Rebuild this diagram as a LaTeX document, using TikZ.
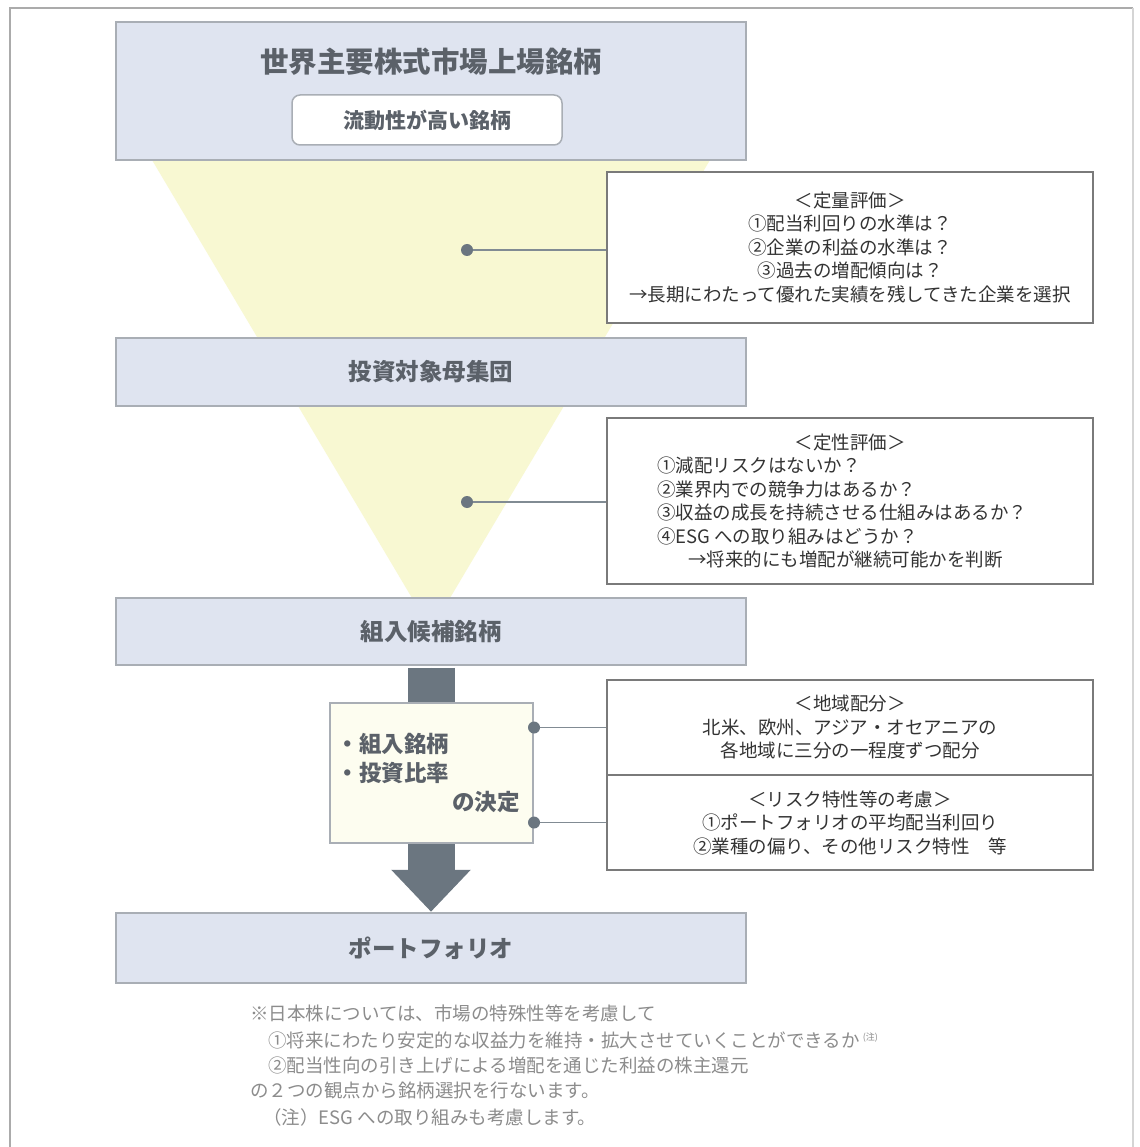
\documentclass[tikz,border=0pt]{standalone}
\usepackage{fontspec}
\setmainfont{Noto Sans CJK JP}
\usetikzlibrary{arrows.meta}
\definecolor{boxblue}{HTML}{DFE4F0}
\definecolor{boxedge}{HTML}{A9AEB5}
\definecolor{funnelcol}{HTML}{F8F8D2}
\definecolor{cream}{HTML}{FDFDF0}
\definecolor{titlegray}{HTML}{5B6169}
\definecolor{arrowgray}{HTML}{6B7680}
\definecolor{rbedge}{HTML}{7A7A7A}
\definecolor{notegray}{HTML}{8C8C8C}
\definecolor{framegray}{HTML}{ABABAB}
\definecolor{bodytext}{HTML}{333333}
\begin{document}
\begin{tikzpicture}[x=1pt,y=-1pt,
  stage/.style={draw=boxedge, line width=2.5pt, fill=boxblue, minimum width=630pt,
    inner sep=0pt, text=titlegray, font=\fontsize{23.5}{28}\selectfont\bfseries},
  rbox/.style={draw=rbedge, line width=1.8pt, fill=white, minimum width=486pt,
    inner sep=0pt, text=bodytext, font=\fontsize{18.5}{23.5}\selectfont, align=center},
  dotmark/.style={circle, fill=arrowgray, inner sep=0pt, minimum size=12pt},
  link/.style={draw=arrowgray!85, line width=1.8pt},
  note/.style={anchor=west, inner sep=0pt, text=notegray, font=\fontsize{18.5}{22}\selectfont}
]
\useasboundingbox[fill=white] (0,0) rectangle (1139,1147);
% outer frame
\draw[framegray, line width=2pt] (10,1147) -- (10,8) -- (1133,8);
\draw[framegray!50, line width=1.5pt] (1133,8) -- (1133,1147);

% funnel
\fill[funnelcol] (152,160) -- (710,160) -- (431,630) -- cycle;

% stage boxes
\node[stage, minimum height=138pt] (b1) at (431,91) {};
\node[text=titlegray, font=\fontsize{28.5}{32}\selectfont\bfseries] (b1t) at (431,62) {世界主要株式市場上場銘柄};
\node[draw=boxedge, line width=1.5pt, rounded corners=8pt, fill=white, minimum width=270pt,
  minimum height=50pt, text=titlegray, font=\fontsize{21}{24}\selectfont\bfseries] (liq) at (427,120) {流動性が高い銘柄};
\node[stage, minimum height=68pt] (b2) at (431,372) {投資対象母集団};
\node[stage, minimum height=67pt] (b3) at (431,631.5) {組入候補銘柄};
\node[stage, minimum height=70pt] (b5) at (431,948) {ポートフォリオ};

% thick arrow (drawn before the decision box so the box covers it)
\draw[draw=arrowgray, fill=arrowgray, line width=47pt, -{Triangle[length=42pt, width=77pt]}]
  ([yshift=-1.5pt]b3.south) -- (b5.north);

% decision box
\node[draw=boxedge, line width=2pt, fill=cream, minimum width=203pt, minimum height=140pt,
  inner sep=0pt, text=titlegray, font=\fontsize{22.5}{29}\selectfont\bfseries] (dec) at (431.5,773)
  {\parbox{190pt}{・組入銘柄\\・投資比率\\\hspace*{\fill}の決定\kern7pt}};

% right boxes
\node[rbox, minimum height=151pt] (r1) at (850,247.5)
  {＜定量評価＞\\①配当利回りの水準は？\\②企業の利益の水準は？\\③過去の増配傾向は？\\→長期にわたって優れた実績を残してきた企業を選択};
\node[rbox, minimum height=166pt] (r2) at (850,501)
  {\parbox{386pt}{\centering ＜定性評価＞\par\raggedright
   ①減配リスクはないか？\\②業界内での競争力はあるか？\\③収益の成長を持続させる仕組みはあるか？\\④ESG への取り組みはどうか？\\\hspace*{31pt}→将来的にも増配が継続可能かを判断}};
\node[rbox, minimum height=95pt] (r3) at (850,727.5)
  {＜地域配分＞\\北米、欧州、アジア・オセアニアの\\各地域に三分の一程度ずつ配分};
\node[rbox, minimum height=95pt] (r4) at (850,822.5)
  {＜リスク特性等の考慮＞\\①ポートフォリオの平均配当利回り\\②業種の偏り、その他リスク特性　等};

% dots and connectors
\node[dotmark] (d1) at (467,250) {};
\node[dotmark] (d2) at (467,502) {};
\node[dotmark] (d3) at (dec.east |- r3.west) {};
\node[dotmark] (d4) at (dec.east |- r4.west) {};
\draw[link] (d1) -- (d1 -| r1.west);
\draw[link] (d2) -- (d2 -| r2.west);
\draw[link] (d3) -- (d3 -| r3.west);
\draw[link] (d4) -- (d4 -| r4.west);

% footnote
\node[note] (n1) at (250,1013) {※日本株については、市場の特殊性等を考慮して};
\node[note] (n2) at (268,1040) {①将来にわたり安定的な収益力を維持・拡大させていくことができるか\,\raisebox{7pt}{\fontsize{9}{9}\selectfont (注)}};
\node[note] (n3) at (268,1065) {②配当性向の引き上げによる増配を通じた利益の株主還元};
\node[note] (n4) at (250,1090) {の２つの観点から銘柄選択を行ないます。};
\node[note] (n5) at (263,1117) {（注）ESG への取り組みも考慮します。};
\end{tikzpicture}
\end{document}
